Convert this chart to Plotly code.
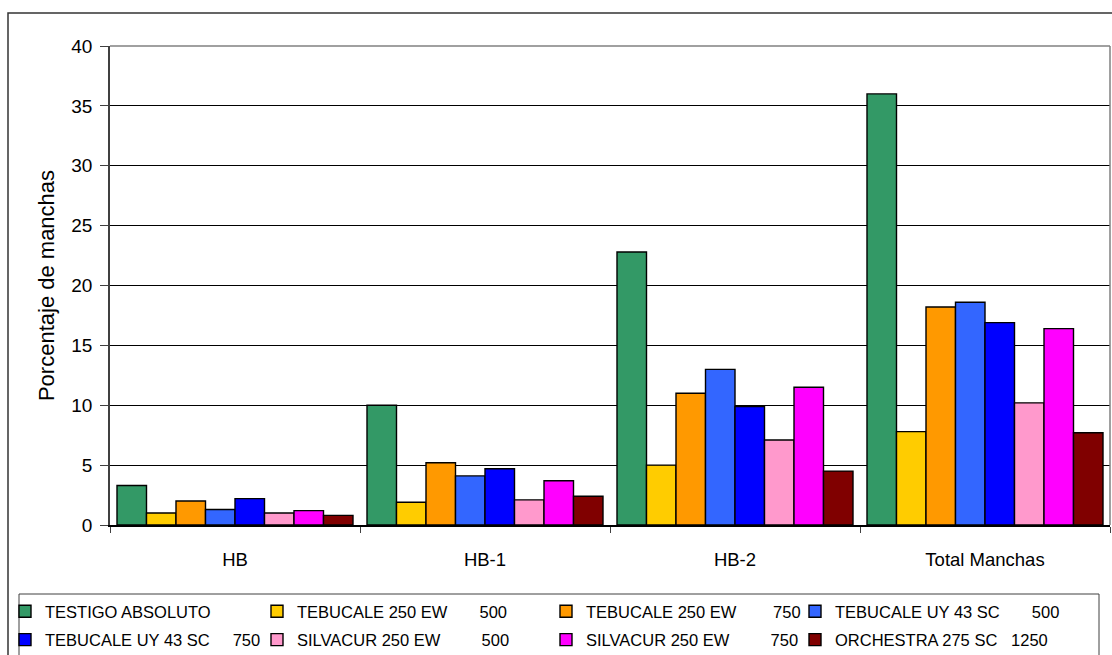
import plotly.graph_objects as go

# Categories on the x axis
categories = ["HB", "HB-1", "HB-2", "Total Manchas"]

NB = "&nbsp;"

# Treatment names (legend labels) and bar colours
treatments = [
    "TESTIGO ABSOLUTO",
    "TEBUCALE 250 EW" + NB * 7 + "500",
    "TEBUCALE 250 EW" + NB * 8 + "750",
    "TEBUCALE UY 43 SC" + NB * 7 + "500",
    "TEBUCALE UY 43 SC" + NB * 5 + "750",
    "SILVACUR 250 EW" + NB * 9 + "500",
    "SILVACUR 250 EW" + NB * 9 + "750",
    "ORCHESTRA 275 SC" + NB * 3 + "1250",
]
colors = ["#339966", "#FFCC00", "#FF9900", "#3366FF",
          "#0000FF", "#FF99CC", "#FF00FF", "#800000"]

# Percentage of spots per treatment, in category order
testigo_absoluto = [3.3, 10.0, 22.8, 36.0]
tebucale_250_500 = [1.0, 1.9, 5.0, 7.8]
tebucale_250_750 = [2.0, 5.2, 11.0, 18.2]
tebucale_uy_500 = [1.3, 4.1, 13.0, 18.6]
tebucale_uy_750 = [2.2, 4.7, 9.9, 16.9]
silvacur_500 = [1.0, 2.1, 7.1, 10.2]
silvacur_750 = [1.2, 3.7, 11.5, 16.4]
orchestra_1250 = [0.8, 2.4, 4.5, 7.7]

series = [testigo_absoluto, tebucale_250_500, tebucale_250_750, tebucale_uy_500,
          tebucale_uy_750, silvacur_500, silvacur_750, orchestra_1250]

# Legend columns: each column is its own legend holding two entries
legend_ids = ["legend", "legend2", "legend3", "legend4"]

fig = go.Figure()
for i, (name, vals, col) in enumerate(zip(treatments, series, colors)):
    fig.add_trace(go.Bar(
        x=categories, y=vals, name=name,
        marker=dict(color=col, line=dict(color="#000000", width=1.4)),
        legend=legend_ids[i % 4],
        legendgroup=f"g{i}",
    ))

FONT = "Liberation Sans, Arial, sans-serif"

L, R, T, B = 110, 2, 46, 130
W, H = 1112, 655
pw, ph = W - L - R, H - T - B


def px(x):
    return (x - L) / pw


def py(y):
    return (H - B - y) / ph


legend_common = dict(
    orientation="v", xanchor="left", yanchor="top",
    bgcolor="rgba(0,0,0,0)", borderwidth=0,
    font=dict(family=FONT, size=16.5, color="#000000"),
    tracegroupgap=4, traceorder="grouped",
)
legend_x = [5, 257, 546, 795]
layout_legends = {}
for lid, lx in zip(legend_ids, legend_x):
    layout_legends[lid] = dict(legend_common, x=px(lx), y=py(594))

fig.update_layout(
    width=W, height=H,
    margin=dict(l=L, r=R, t=T, b=B, autoexpand=False),
    paper_bgcolor="#FFFFFF", plot_bgcolor="#FFFFFF",
    barmode="group", bargap=0.056, bargroupgap=0,
    font=dict(family=FONT, size=18, color="#000000"),
    showlegend=True,
    **layout_legends,
)

fig.update_yaxes(
    range=[0, 40], dtick=5, tick0=0,
    showgrid=True, gridcolor="#000000", gridwidth=1,
    showline=True, linecolor="#404040", linewidth=1.5,
    ticks="outside", ticklen=8, tickcolor="#404040",
    tickfont=dict(family=FONT, size=19, color="#000000"),
    ticklabelstandoff=4,
    zeroline=False, automargin=False,
    title=dict(text="Porcentaje de manchas",
               font=dict(family=FONT, size=22, color="#000000"),
               standoff=11),
)
fig.update_xaxes(
    showline=True, linecolor="#000000", linewidth=1.5,
    ticks="outside", tickson="boundaries", ticklen=6, tickcolor="#404040",
    tickfont=dict(family=FONT, size=18.5, color="#000000"),
    ticklabelstandoff=17, automargin=False,
)

shapes = [
    # outer chart frame
    dict(type="rect", xref="paper", yref="paper",
         x0=px(8), x1=px(1140), y0=py(700), y1=py(13),
         line=dict(color="#333333", width=1.5), layer="below"),
    # plot area border (top and right)
    dict(type="line", xref="paper", yref="paper",
         x0=0, x1=1, y0=1, y1=1, line=dict(color="#808080", width=1.5)),
    dict(type="line", xref="paper", yref="paper",
         x0=1, x1=1, y0=0, y1=1, line=dict(color="#808080", width=1.5)),
    # legend frame
    dict(type="rect", xref="paper", yref="paper",
         x0=px(19), x1=px(1099), y0=py(700), y1=py(594),
         line=dict(color="#404040", width=1)),
]
fig.update_layout(shapes=shapes)

fig.write_html("out.html")
